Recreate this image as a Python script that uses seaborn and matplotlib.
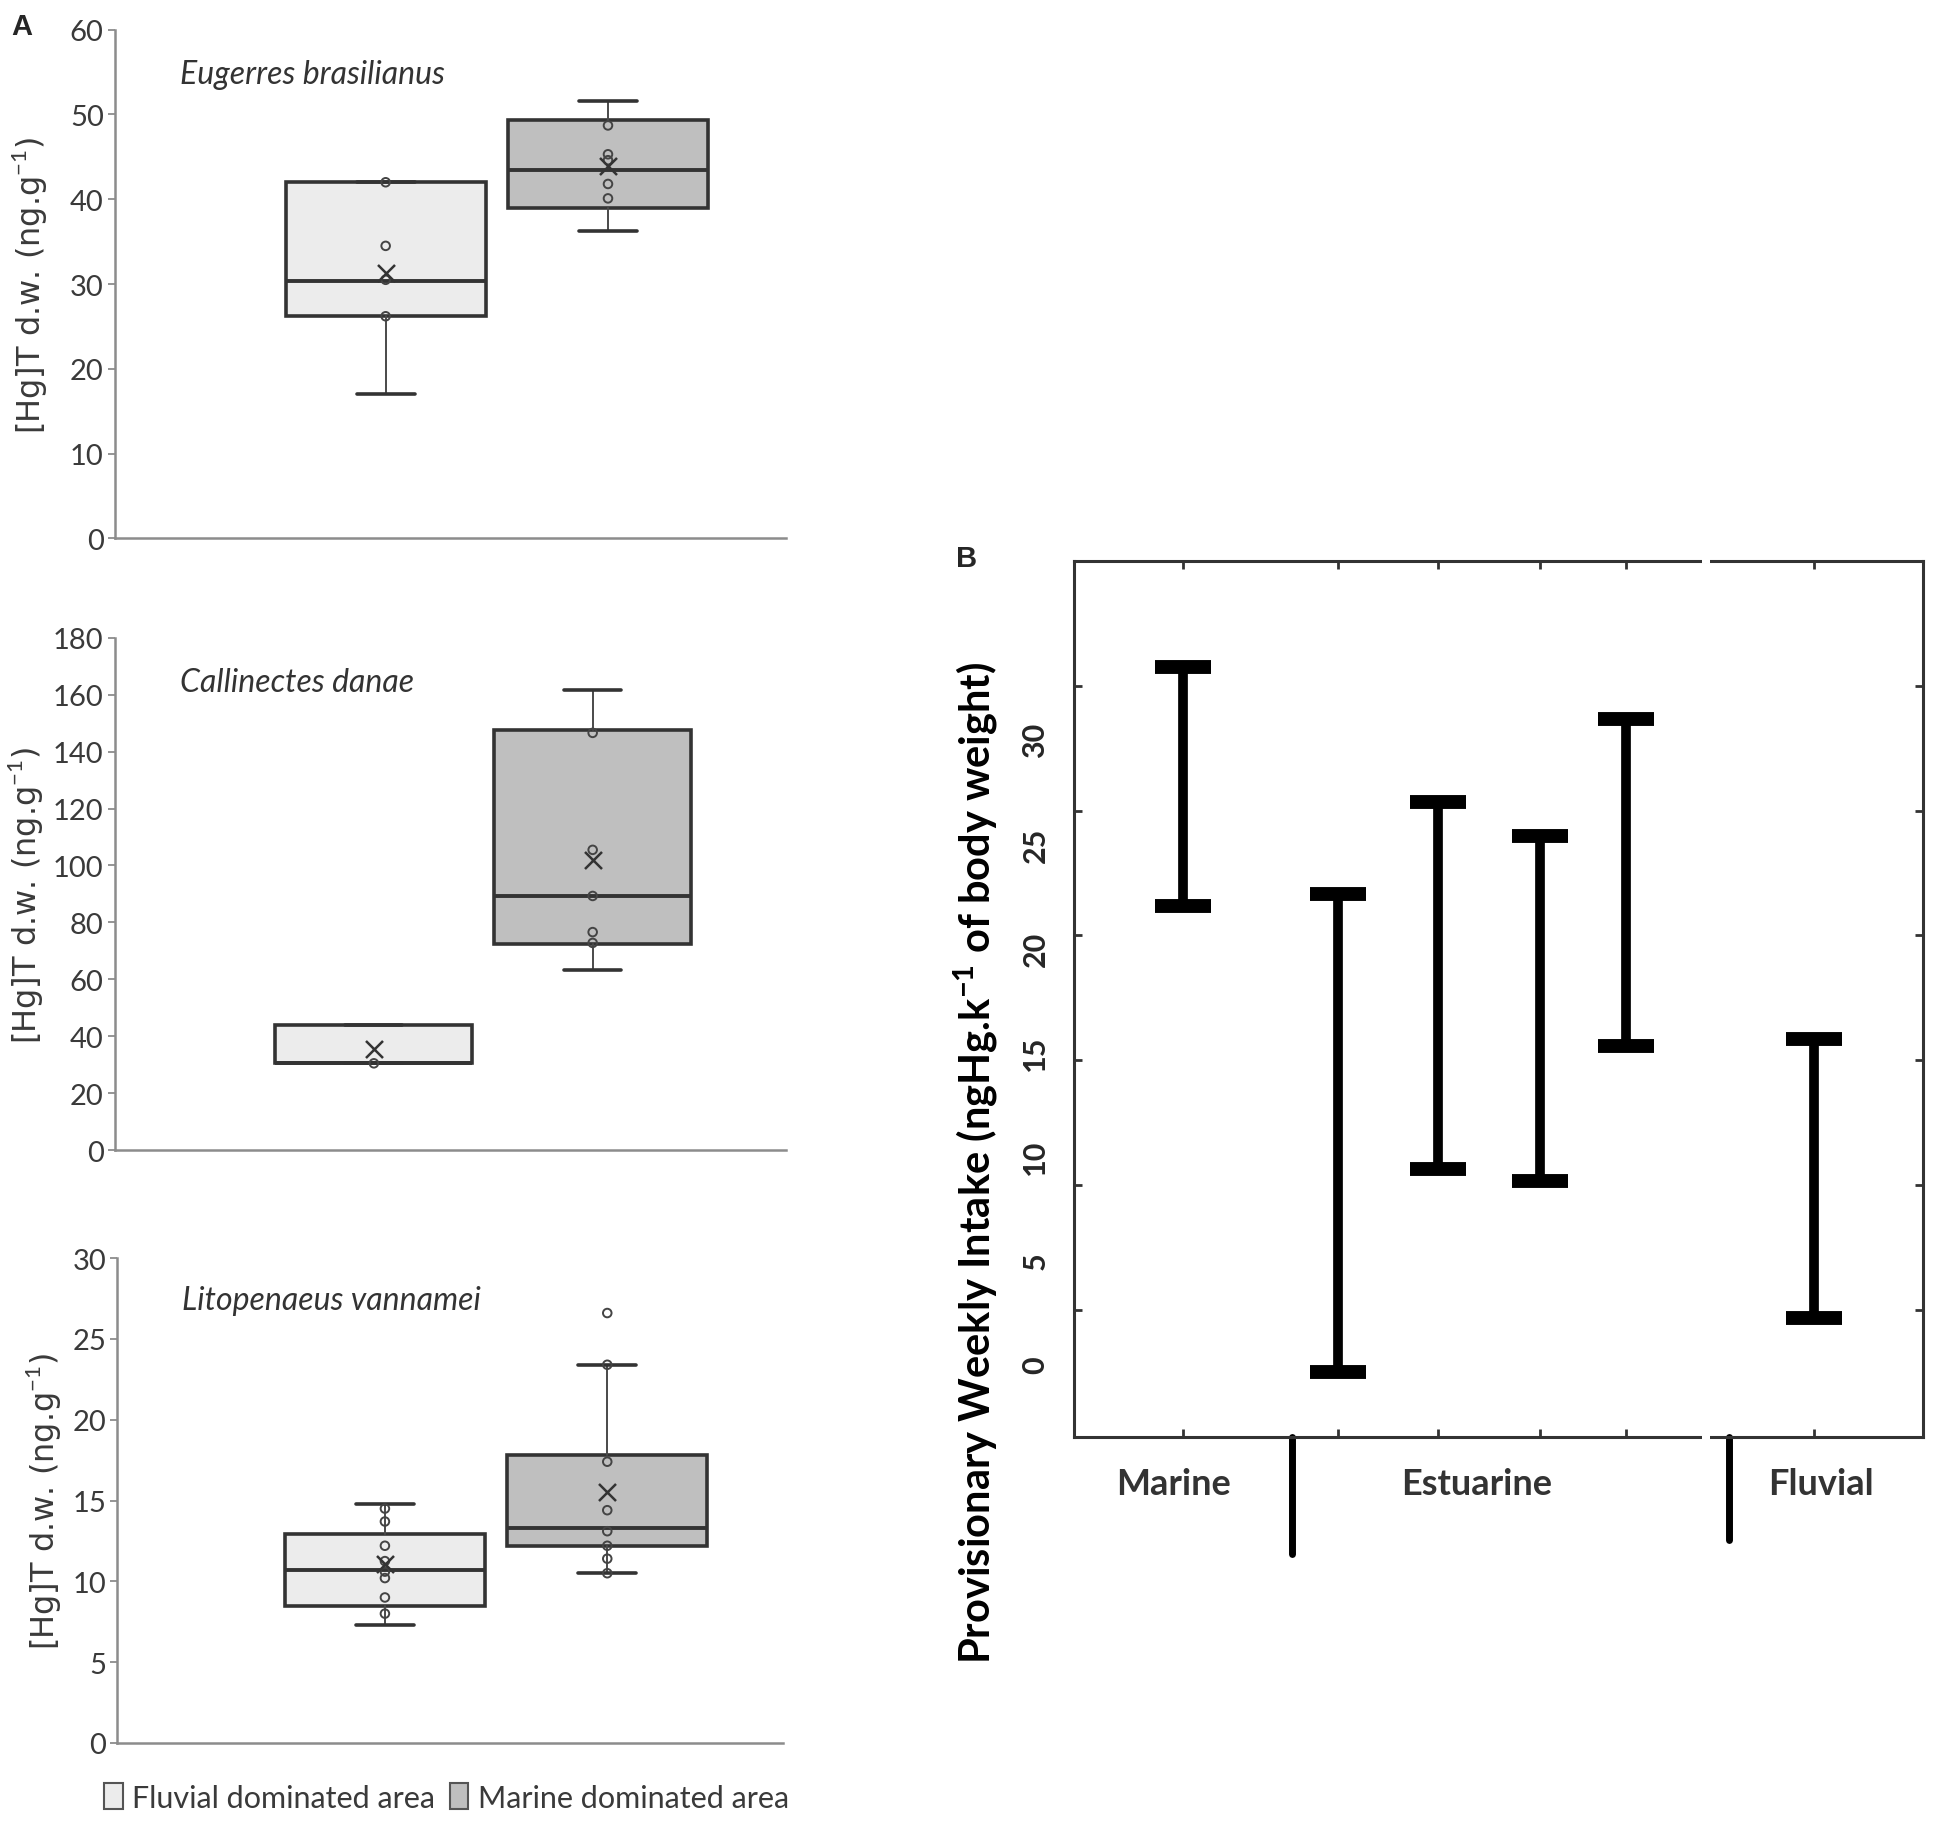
import matplotlib
matplotlib.use("Agg")
import numpy as np
import matplotlib.pyplot as plt
from matplotlib.patches import Patch
import seaborn as sns

# ---------------- panel A : box plot summaries (fluvial, marine) ----------------
areas = ["Fluvial dominated area", "Marine dominated area"]
species = ["Eugerres brasilianus", "Callinectes danae", "Litopenaeus vannamei"]

eug_whislo = [17.0, 36.3]
eug_q1 = [26.2, 39.0]
eug_med = [30.4, 43.4]
eug_q3 = [42.0, 49.3]
eug_whishi = [42.0, 51.6]
eug_mean = [31.3, 43.9]
eug_pts = [[42.0, 34.5, 30.5, 26.2], [48.7, 45.3, 44.6, 41.8, 40.1]]

cal_whislo = [30.5, 63.3]
cal_q1 = [30.5, 72.4]
cal_med = [30.5, 89.3]
cal_q3 = [43.9, 147.5]
cal_whishi = [43.9, 161.8]
cal_mean = [35.5, 102.1]
cal_pts = [[30.5], [146.6, 105.5, 89.3, 76.6, 72.8]]

lit_whislo = [7.3, 10.5]
lit_q1 = [8.5, 12.2]
lit_med = [10.7, 13.3]
lit_q3 = [12.9, 17.8]
lit_whishi = [14.8, 23.4]
lit_mean = [11.1, 15.5]
lit_pts = [[14.5, 13.7, 12.2, 11.25, 10.6, 10.2, 9.0, 8.0],
           [26.6, 23.4, 17.4, 14.4, 13.1, 12.2, 11.4, 10.5]]

# ---------------- panel B : PWI ranges ----------------
pwi_low = [22.0, -0.4, 9.4, 8.8, 15.3, 2.2]
pwi_high = [33.5, 22.6, 27.0, 25.4, 31.0, 15.6]
regions = ["Marine", "Estuarine", "Fluvial"]

sns.set_theme(style="white")
plt.rcParams["font.family"] = ["Lato", "DejaVu Sans"]
plt.rcParams["mathtext.fontset"] = "custom"
plt.rcParams["mathtext.rm"] = "Lato"
plt.rcParams["mathtext.bf"] = "Lato:bold"

fig = plt.figure(figsize=(19.5, 18.33), dpi=100)

box_face = ["#ececec", "#bfbfbf"]
edge = "#333333"
spine_grey = "#8c8c8c"
txt_grey = "#3a3a3a"

panels = [
    dict(name=species[0], rect=[0.0589, 0.7057, 0.3441, 0.2776], ylim=60, step=10,
         xl=(-1.218, 1.80), stats=(eug_whislo, eug_q1, eug_med, eug_q3, eug_whishi),
         mean=eug_mean, pts=eug_pts, lab_x=-0.127),
    dict(name=species[1], rect=[0.0589, 0.3720, 0.3441, 0.2795], ylim=180, step=20,
         xl=(-1.184, 1.883), stats=(cal_whislo, cal_q1, cal_med, cal_q3, cal_whishi),
         mean=cal_mean, pts=cal_pts, lab_x=-0.132),
    dict(name=species[2], rect=[0.0601, 0.0486, 0.3414, 0.2645], ylim=30, step=5,
         xl=(-1.204, 1.79), stats=(lit_whislo, lit_q1, lit_med, lit_q3, lit_whishi),
         mean=lit_mean, pts=lit_pts, lab_x=-0.110),
]

for p in panels:
    ax = fig.add_axes(p["rect"])
    lo, q1, med, q3, hi = p["stats"]
    stats = []
    for i in range(2):
        stats.append(dict(whislo=lo[i], q1=q1[i], med=med[i], q3=q3[i],
                          whishi=hi[i], fliers=[], label=areas[i]))
    bp = ax.bxp(stats, positions=[0, 1], widths=0.9, patch_artist=True,
                showfliers=False, manage_ticks=False, capwidths=0.26,
                boxprops=dict(edgecolor=edge, linewidth=2.6),
                medianprops=dict(color=edge, linewidth=2.8),
                whiskerprops=dict(color="#4a4a4a", linewidth=1.4),
                capprops=dict(color=edge, linewidth=2.6))
    for patch, fc in zip(bp["boxes"], box_face):
        patch.set_facecolor(fc)
    for i in range(2):
        ax.scatter([i] * len(p["pts"][i]), p["pts"][i], s=38, facecolors="none",
                   edgecolors="#444444", linewidths=1.4, zorder=4)
        ax.scatter([i], [p["mean"][i]], marker="x", s=150, c="#333333",
                   linewidths=1.8, zorder=5)

    ax.set_xlim(*p["xl"])
    ax.set_ylim(0, p["ylim"])
    ax.set_yticks(np.arange(0, p["ylim"] + 1, p["step"]))
    ax.set_xticks([])
    sns.despine(ax=ax)
    for s in ["left", "bottom"]:
        ax.spines[s].set_color(spine_grey)
        ax.spines[s].set_linewidth(1.8)
    ax.tick_params(axis="y", left=True, length=5, width=1.3, color=spine_grey,
                   labelsize=21, labelcolor=txt_grey, pad=3)
    ax.set_ylabel("[Hg]T d.w. (ng.g$^{-1}$)", fontsize=23, color=txt_grey,
                  family=["DejaVu Sans"], va="center")
    ax.yaxis.set_label_coords(p["lab_x"], 0.5)
    ax.text(0.097, 0.913, p["name"], transform=ax.transAxes, style="italic",
            fontsize=23, color="#333333", va="center", ha="left")
    ax.grid(False)

handles = [Patch(facecolor=box_face[0], edgecolor="#555555", linewidth=1.5),
           Patch(facecolor=box_face[1], edgecolor="#555555", linewidth=1.5)]
leg = fig.legend(handles, areas, loc="center", bbox_to_anchor=(0.229, 0.0188), ncol=2,
                 frameon=False, fontsize=22, handlelength=0.6, handleheight=0.9,
                 handletextpad=0.3, columnspacing=0.5)
for t in leg.get_texts():
    t.set_color(txt_grey)

# ---------------- panel B ----------------
axb = fig.add_axes([0.551, 0.2155, 0.435, 0.478])
pos_b = [1.28, 3.11, 4.29, 5.49, 6.50, 8.72]
low = np.array(pwi_low)
high = np.array(pwi_high)
mid = (low + high) / 2
axb.errorbar(pos_b, mid, yerr=[mid - low, high - mid], fmt="none", ecolor="black",
             elinewidth=7, capsize=20, capthick=10)
axb.set_xlim(0, 10)
axb.set_ylim(-3.5, 38.6)
axb.set_yticks(range(0, 31, 5))
axb.set_yticks([2.6, 8.6, 14.6, 20.6, 26.6, 32.6], minor=True)
axb.set_xticks(pos_b)
axb.set_xticklabels([])
axb.tick_params(axis="y", which="major", length=0, labelsize=22, pad=18)
axb.tick_params(axis="y", which="minor", left=True, right=True, direction="in",
                length=6, width=2, color="#333333")
axb.tick_params(axis="x", bottom=True, top=True, direction="in", length=6, width=2,
                color="#333333")
for lab in axb.get_yticklabels():
    lab.set_rotation(90)
    lab.set_fontweight("bold")
    lab.set_va("center")
for s in axb.spines.values():
    s.set_color("#333333")
    s.set_linewidth(2.2)
    s.set_visible(True)
axb.grid(False)
axb.set_ylabel("Provisionary Weekly Intake (ngHg.k$^{\\mathbf{-1}}$ of body weight)",
               fontsize=30, fontweight="bold", color="black", va="center")
axb.yaxis.set_label_coords(-0.117, 0.314)

# gaps in the frame and group separators below the axis
for yy in (0, 1):
    axb.plot([0.740, 0.749], [yy, yy], transform=axb.transAxes, color="white", lw=4,
             clip_on=False, solid_capstyle="butt", zorder=6)
axb.plot([0.257, 0.257], [0, -0.133], transform=axb.transAxes, color="black", lw=5,
         clip_on=False, solid_capstyle="round")
axb.plot([0.772, 0.772], [0, -0.117], transform=axb.transAxes, color="black", lw=5,
         clip_on=False, solid_capstyle="round")
for name, xx in zip(regions, [0.117, 0.474, 0.88]):
    axb.text(xx, -0.053, name, transform=axb.transAxes, ha="center", va="center",
             fontsize=26, fontweight="bold", color="#333333")

fig.text(0.006, 0.9855, "A", fontsize=21, fontweight="bold", va="center",
         family=["Liberation Sans"])
fig.text(0.490, 0.695, "B", fontsize=21, fontweight="bold", va="center",
         family=["Liberation Sans"])

fig.savefig("out.png", dpi=100)
